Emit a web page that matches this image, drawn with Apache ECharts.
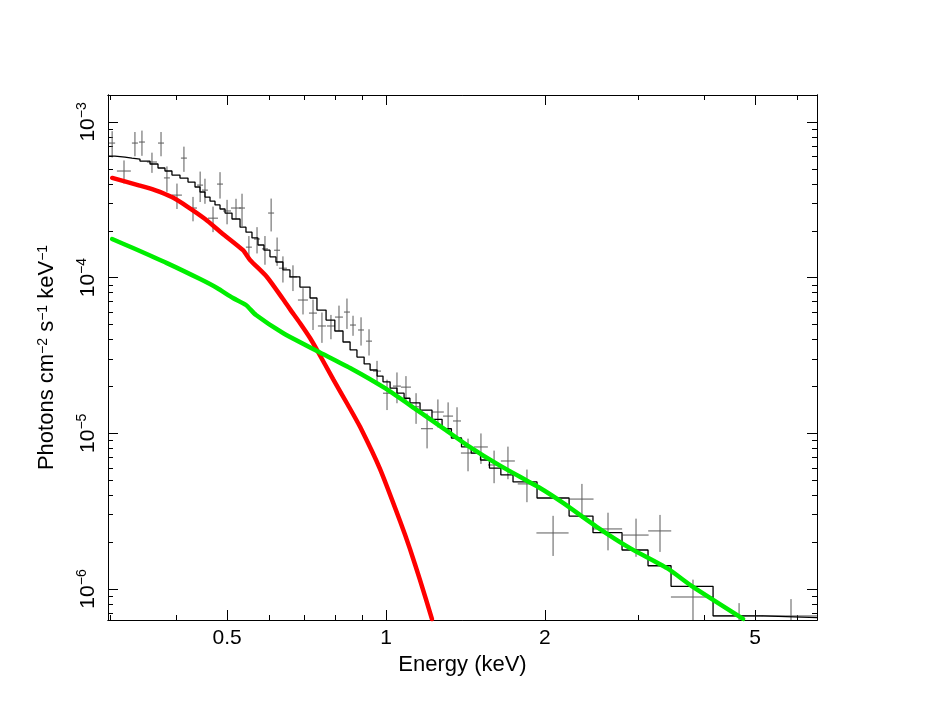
<!DOCTYPE html>
<html>
<head>
<meta charset="utf-8">
<title>Spectrum</title>
<script src="https://cdn.jsdelivr.net/npm/echarts@6/dist/echarts.min.js"></script>
<style>
  html, body { margin: 0; padding: 0; background: #fff; }
  #chart { width: 926px; height: 716px; }
</style>
</head>
<body>
<div id="chart"></div>
<script>
// axis ranges (keV, photons cm-2 s-1 keV-1)
const xMin = 0.2975, xMax = 6.55
const yMin = 6.32e-7, yMax = 1.49e-3

// tick values and labels
const xMajor = [0.5, 1, 2, 5]
const xMajorLabels = ['0.5', '1', '2', '5']
const xMinor = [0.3, 0.4, 0.6, 0.7, 0.8, 0.9, 3, 4, 6]
const yMajor = [1e-6, 1e-5, 1e-4, 1e-3]
const yMajorExp = ['−6', '−5', '−4', '−3']
const yMinor = [7e-7, 8e-7, 9e-7,
  2e-6, 3e-6, 4e-6, 5e-6, 6e-6, 7e-6, 8e-6, 9e-6,
  2e-5, 3e-5, 4e-5, 5e-5, 6e-5, 7e-5, 8e-5, 9e-5,
  2e-4, 3e-4, 4e-4, 5e-4, 6e-4, 7e-4, 8e-4, 9e-4]

// measured points: energy, half bin width, flux, flux error
const ptE = [0.3029, 0.3190, 0.3346, 0.3450, 0.3604, 0.3749, 0.3847, 0.4019, 0.4143, 0.4310,
  0.4446, 0.4541, 0.4703, 0.4849, 0.5000, 0.5199, 0.5337, 0.5500, 0.5698, 0.5899,
  0.6059, 0.6219, 0.6380, 0.6665, 0.6963, 0.7274, 0.7563, 0.7866, 0.8146, 0.8435,
  0.8660, 0.8968, 0.9286, 0.9616, 1.0044, 1.049, 1.091, 1.140, 1.196, 1.254,
  1.311, 1.363, 1.430, 1.513, 1.602, 1.702, 1.849, 2.072, 2.350, 2.633,
  2.975, 3.303, 3.814, 4.663, 5.848]
const ptDE = [0.0040, 0.0097, 0.0044, 0.0045, 0.0079, 0.0049, 0.0050, 0.0088, 0.0054, 0.0075,
  0.0058, 0.0059, 0.0103, 0.0063, 0.0087, 0.0113, 0.0070, 0.0072, 0.0075, 0.0077,
  0.0079, 0.0081, 0.0111, 0.0116, 0.0152, 0.0127, 0.0132, 0.0137, 0.0142, 0.0110,
  0.0113, 0.0117, 0.0122, 0.0168, 0.0175, 0.0183, 0.0238, 0.0149, 0.0313, 0.0328,
  0.0286, 0.0238, 0.0437, 0.0462, 0.0419, 0.052, 0.0726, 0.145, 0.122, 0.167,
  0.168, 0.166, 0.35, 0.5, 0.7]
const ptF = [7.32e-4, 4.84e-4, 7.32e-4, 7.43e-4, 5.53e-4, 7.32e-4, 4.37e-4, 3.39e-4, 5.86e-4, 2.80e-4,
  3.93e-4, 3.65e-4, 2.41e-4, 3.99e-4, 2.68e-4, 2.80e-4, 2.80e-4, 1.57e-4, 1.77e-4, 1.53e-4,
  2.60e-4, 1.50e-4, 1.15e-4, 1.01e-4, 7.18e-5, 5.92e-5, 4.89e-5, 4.89e-5, 5.58e-5, 6.01e-5,
  4.96e-5, 4.61e-5, 3.91e-5, 2.51e-5, 1.81e-5, 2.01e-5, 1.98e-5, 1.48e-5, 1.07e-5, 1.37e-5,
  1.29e-5, 1.20e-5, 7.47e-6, 8.17e-6, 6.26e-6, 6.64e-6, 4.73e-6, 2.29e-6, 3.78e-6, 2.43e-6,
  2.22e-6, 2.36e-6, 8.88e-7, 6.71e-7, 6.71e-7]
const ptDF = [1.41e-4, 8.2e-5, 1.30e-4, 1.37e-4, 8.2e-5, 1.30e-4, 8.1e-5, 6.3e-5, 1.08e-4, 5.0e-5,
  8.7e-5, 6.7e-5, 4.5e-5, 7.7e-5, 4.8e-5, 4.1e-5, 6.6e-5, 2.8e-5, 3.4e-5, 3.2e-5,
  6.2e-5, 3.1e-5, 2.2e-5, 1.9e-5, 1.38e-5, 1.31e-5, 1.08e-5, 8.7e-6, 1.03e-5, 1.33e-5,
  7.3e-6, 9.5e-6, 7.5e-6, 4.1e-6, 4.0e-6, 4.5e-6, 3.5e-6, 3.3e-6, 2.7e-6, 2.8e-6,
  2.9e-6, 2.7e-6, 1.77e-6, 1.81e-6, 1.48e-6, 1.57e-6, 1.12e-6, 6.6e-7, 9.5e-7, 6.6e-7,
  6.1e-7, 6.3e-7, 2.6e-7, 1.4e-7, 1.9e-7]

// total model, histogram: bin edges and level per bin
const histEdges = [0.2975, 0.3067, 0.3204, 0.3303, 0.3420, 0.3573, 0.3700, 0.3814, 0.3932, 0.4072,
  0.4217, 0.4348, 0.4443, 0.4541, 0.4642, 0.4744, 0.4849, 0.4956, 0.5109, 0.5291,
  0.5430, 0.5574, 0.5722, 0.5873, 0.6029, 0.6189, 0.6380, 0.6578, 0.687, 0.718,
  0.740, 0.770, 0.800, 0.829, 0.855, 0.881, 0.909, 0.933, 0.962, 0.987,
  1.018, 1.049, 1.082, 1.110, 1.160, 1.222, 1.277, 1.330, 1.390, 1.450,
  1.510, 1.570, 1.650, 1.740, 1.932, 2.222, 2.466, 2.799, 3.135, 3.466,
  4.163, 5.176, 6.55]
const histLevels = [6.04e-4, 5.95e-4, 5.86e-4, 5.78e-4, 5.61e-4, 5.37e-4, 5.06e-4, 4.84e-4, 4.56e-4, 4.36e-4,
  4.11e-4, 3.82e-4, 3.55e-4, 3.29e-4, 3.10e-4, 2.93e-4, 2.76e-4, 2.60e-4, 2.38e-4, 2.11e-4,
  1.96e-4, 1.80e-4, 1.62e-4, 1.50e-4, 1.36e-4, 1.26e-4, 1.12e-4, 1.01e-4, 8.70e-5, 7.40e-5,
  6.19e-5, 5.34e-5, 4.54e-5, 3.86e-5, 3.43e-5, 3.09e-5, 2.79e-5, 2.55e-5, 2.33e-5, 2.14e-5,
  1.95e-5, 1.81e-5, 1.68e-5, 1.57e-5, 1.41e-5, 1.23e-5, 1.07e-5, 9.33e-6, 8.17e-6, 7.47e-6,
  6.74e-6, 5.98e-6, 5.40e-6, 4.87e-6, 3.84e-6, 2.94e-6, 2.30e-6, 1.78e-6, 1.41e-6, 1.04e-6,
  6.71e-7, 6.55e-7]

// red component
const redE = [0.303, 0.339, 0.365, 0.393, 0.4217, 0.4543, 0.489, 0.536, 0.5527, 0.595,
  0.638, 0.6578, 0.687, 0.718, 0.740, 0.794, 0.847, 0.893, 0.974, 1.063,
  1.110, 1.160, 1.222]
const redF = [4.37e-4, 3.93e-4, 3.65e-4, 3.29e-4, 2.84e-4, 2.38e-4, 1.93e-4, 1.50e-4, 1.30e-4, 1.01e-4,
  7.29e-5, 6.28e-5, 5.11e-5, 4.09e-5, 3.43e-5, 2.23e-5, 1.52e-5, 1.10e-5, 5.90e-6, 2.73e-6,
  1.81e-6, 1.14e-6, 6.41e-7]

// green component
const greenE = [0.3029, 0.3318, 0.3847, 0.4446, 0.4786, 0.513, 0.543, 0.5673, 0.638, 0.740,
  0.855, 0.9956, 1.145, 1.282, 1.423, 1.644, 1.957, 2.164, 2.51, 2.898,
  3.406, 3.814, 4.745]
const greenF = [1.77e-4, 1.55e-4, 1.24e-4, 9.79e-5, 8.58e-5, 7.40e-5, 6.67e-5, 5.75e-5, 4.41e-5, 3.38e-5,
  2.63e-5, 1.95e-5, 1.41e-5, 1.08e-5, 8.41e-6, 6.2e-6, 4.45e-6, 3.57e-6, 2.50e-6, 1.83e-6,
  1.36e-6, 1.03e-6, 6.42e-7]

const FONT = '"Liberation Sans", Arial, sans-serif'
const lg = Math.log10

// frame axes carry the ticks; they run in log10 units so custom ticks land right
function tickAxis(pos, values, len, opts) {
  const isX = pos === 'bottom' || pos === 'top'
  const lo = isX ? lg(xMin) : lg(yMin)
  const hi = isX ? lg(xMax) : lg(yMax)
  return Object.assign({
    type: 'value',
    position: pos,
    min: lo,
    max: hi,
    axisLine: { show: true, onZero: false, lineStyle: { color: '#000', width: 1 } },
    axisTick: { show: true, inside: true, length: len, customValues: values.map(lg),
      lineStyle: { color: '#000', width: 1 } },
    axisLabel: { show: false },
    splitLine: { show: false }
  }, opts || {})
}

const dataAxisX = { type: 'log', min: xMin, max: xMax, show: false, splitLine: { show: false } }
const dataAxisY = { type: 'log', min: yMin, max: yMax, show: false, splitLine: { show: false } }

const histData = histLevels.map((v, i) => [histEdges[i], v])
histData.push([histEdges[histEdges.length - 1], histLevels[histLevels.length - 1]])

const chart = echarts.init(document.getElementById('chart'))
chart.setOption({
  animation: false,
  backgroundColor: '#fff',
  grid: { left: 108, right: 109, top: 95, bottom: 96, containLabel: false },
  xAxis: [
    dataAxisX,
    tickAxis('bottom', xMajor, 10, {
      axisLabel: {
        show: true, margin: 8, color: '#000', fontSize: 21, fontFamily: FONT,
        customValues: xMajor.map(lg),
        formatter: (v) => {
          const i = xMajor.findIndex(m => Math.abs(lg(m) - v) < 1e-6)
          return i >= 0 ? xMajorLabels[i] : ''
        }
      },
      name: 'Energy (keV)',
      nameLocation: 'middle',
      nameGap: 34,
      nameTextStyle: { color: '#000', fontSize: 22, fontFamily: FONT }
    }),
    tickAxis('bottom', xMinor, 5),
    tickAxis('top', xMajor, 10),
    tickAxis('top', xMinor, 5)
  ],
  yAxis: [
    dataAxisY,
    tickAxis('left', yMajor, 10, {
      axisLabel: {
        show: true, margin: 9, rotate: 90, color: '#000', fontFamily: FONT,
        customValues: yMajor.map(lg),
        formatter: (v) => {
          const i = yMajor.findIndex(m => Math.abs(lg(m) - v) < 1e-6)
          return i >= 0 ? '{n|10}{s|' + yMajorExp[i] + '}' : ''
        },
        rich: {
          n: { fontSize: 21, fontFamily: FONT, color: '#000', lineHeight: 24, verticalAlign: 'bottom' },
          s: { fontSize: 14, fontFamily: FONT, color: '#000', lineHeight: 14, verticalAlign: 'top' }
        }
      },
      name: 'Photons cm{s|−2} s{s|−1} keV{s|−1}',
      nameLocation: 'middle',
      nameRotate: 90,
      nameGap: 50,
      nameTextStyle: {
        color: '#000', fontSize: 22, fontFamily: FONT,
        rich: {
          s: { fontSize: 14, fontFamily: FONT, color: '#000', lineHeight: 14, verticalAlign: 'top' }
        }
      }
    }),
    tickAxis('left', yMinor, 5),
    tickAxis('right', yMajor, 10),
    tickAxis('right', yMinor, 5)
  ],
  series: [
    {
      name: 'data',
      type: 'custom',
      xAxisIndex: 0,
      yAxisIndex: 0,
      clip: true,
      z: 2,
      data: ptE.map((e, i) => [e, ptDE[i], ptF[i], ptDF[i]]),
      renderItem: (params, api) => {
        const e = api.value(0), de = api.value(1), f = api.value(2), df = api.value(3)
        const l = api.coord([e - de, f])
        const r = api.coord([e + de, f])
        const t = api.coord([e, f + df])
        const b = api.coord([e, Math.max(f - df, 1e-9)])
        const style = { stroke: '#5a5a5a', lineWidth: 1 }
        return {
          type: 'group',
          children: [
            { type: 'line', shape: { x1: l[0], y1: l[1], x2: r[0], y2: r[1] }, style },
            { type: 'line', shape: { x1: t[0], y1: t[1], x2: b[0], y2: b[1] }, style }
          ]
        }
      }
    },
    {
      name: 'model',
      type: 'line',
      xAxisIndex: 0,
      yAxisIndex: 0,
      step: 'end',
      showSymbol: false,
      clip: true,
      z: 3,
      itemStyle: { color: '#000' },
      lineStyle: { color: '#000', width: 1.3 },
      data: histData
    },
    {
      name: 'red',
      type: 'line',
      xAxisIndex: 0,
      yAxisIndex: 0,
      smooth: 0.2,
      showSymbol: false,
      clip: true,
      z: 4,
      itemStyle: { color: '#ff0000' },
      lineStyle: { color: '#ff0000', width: 4.5, cap: 'round' },
      data: redE.map((e, i) => [e, redF[i]])
    },
    {
      name: 'green',
      type: 'line',
      xAxisIndex: 0,
      yAxisIndex: 0,
      smooth: 0.2,
      showSymbol: false,
      clip: true,
      z: 5,
      itemStyle: { color: '#00ee00' },
      lineStyle: { color: '#00ee00', width: 4.5, cap: 'round' },
      data: greenE.map((e, i) => [e, greenF[i]])
    }
  ]
})
</script>
</body>
</html>
